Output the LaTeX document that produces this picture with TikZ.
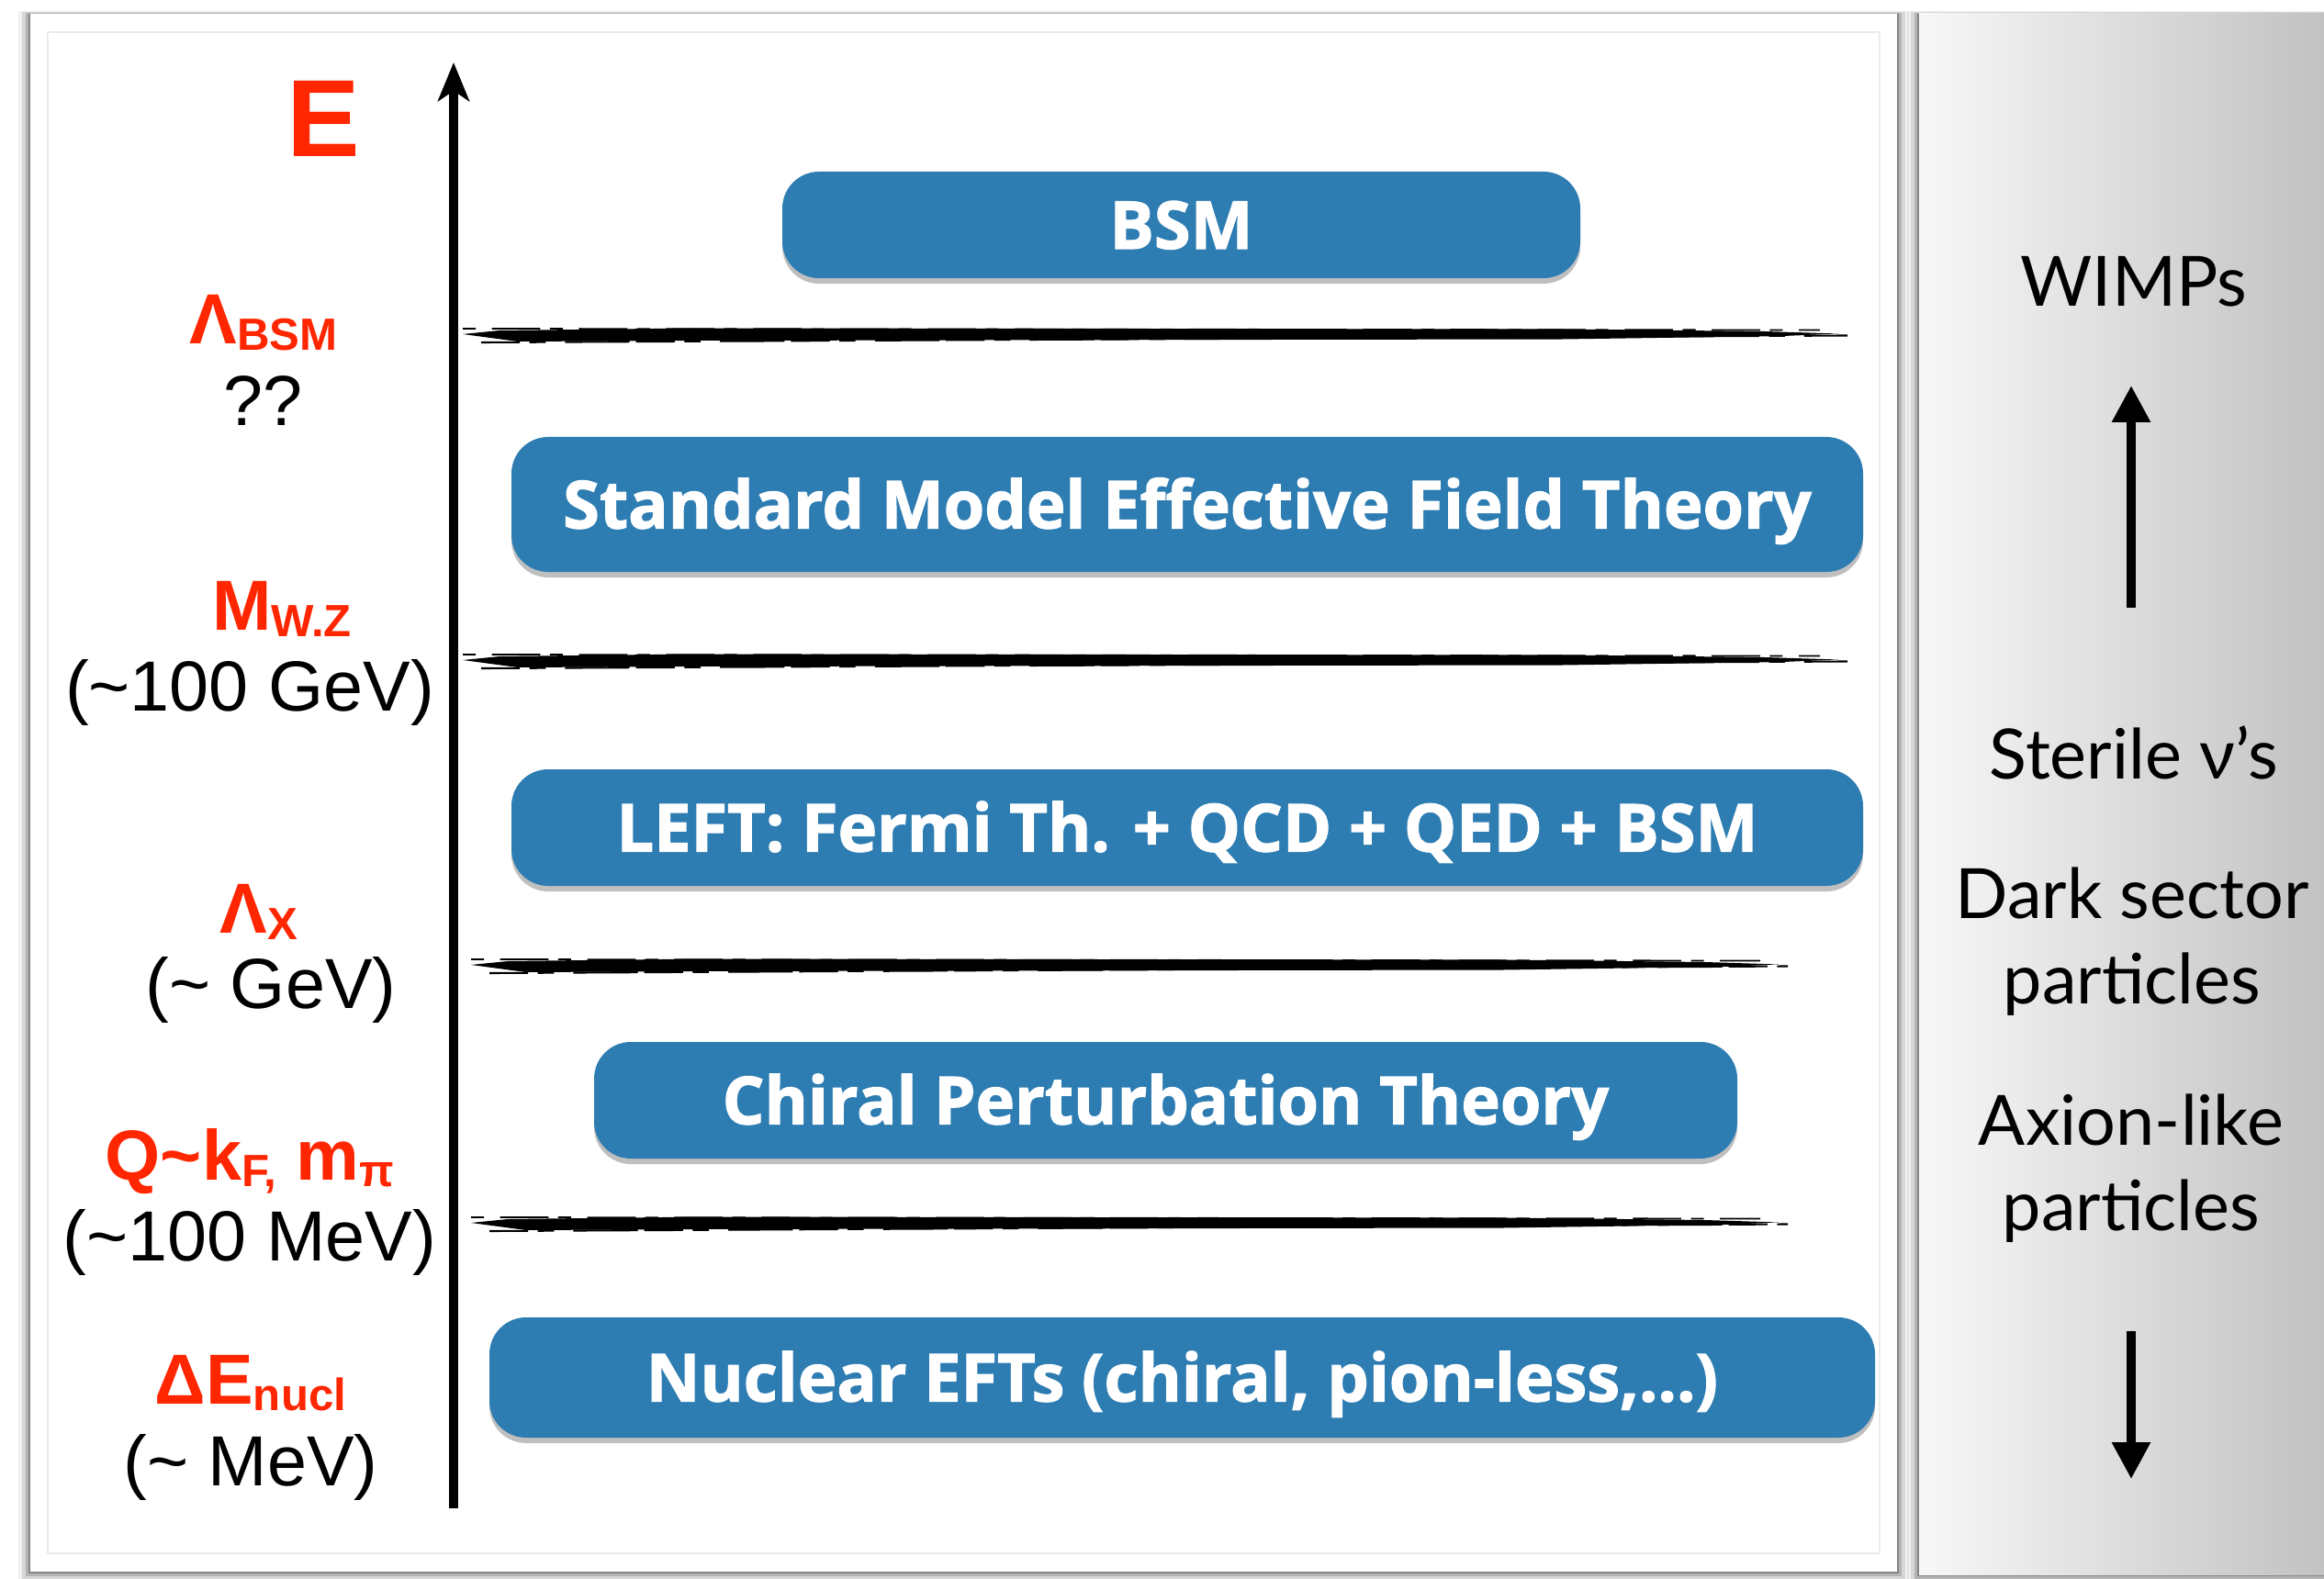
\documentclass[tikz,border=0pt]{standalone}
\usepackage{fontspec}
\usepackage{tikz}
\usetikzlibrary{arrows.meta,shadows}
\setmainfont{Liberation Sans}
\newfontfamily\boxfont[BoldFeatures={FakeBold=1.6}]{Open Sans}
\newfontfamily\sidefont{Lato}
\definecolor{scalered}{RGB}{255,38,0}
\definecolor{eftblue}{RGB}{46,125,178}
\def\lsub#1{\raisebox{-0.07cm}{\fontsize{14}{14}\selectfont #1}}
\def\brush(#1,#2,#3){%
\fill[black] (#1,{#3+0.01}) -- ({#1+0.4},{#3+0.05}) -- ({#1+2.5},{#3+0.075}) -- ({#2-3},{#3+0.065}) -- ({#2-0.8},{#3+0.04}) -- (#2,{#3+0.015}) -- ({#2-0.6},{#3-0.01}) -- ({#2-3},{#3-0.045}) -- ({#1+2.5},{#3-0.06}) -- ({#1+0.6},{#3-0.07}) -- ({#1+0.3},{#3-0.03}) -- cycle;
\draw[line width=0.6pt, dash pattern=on 12pt off 3pt on 5pt off 6pt on 20pt off 2pt] ({#1+0.2},{#3-0.08}) -- ({#2+0.1},{#3-0.005});
\draw[line width=0.5pt, dash pattern=on 4pt off 5pt on 15pt off 3pt] (#1,{#3+0.07}) -- ({#2-0.2},{#3+0.055});}

\begin{document}
\begin{tikzpicture}[
	eftbox/.style={fill=eftblue, rounded corners=0.4cm, text=white, inner sep=0pt,
		font=\boxfont\bfseries\fontsize{20.5}{24}\selectfont, text height=0.62cm, text depth=0.1cm,
		drop shadow={shadow xshift=0cm, shadow yshift=-0.06cm, opacity=0.25, fill=black}},
	scalelbl/.style={text=scalered, font=\bfseries\fontsize{22}{26}\selectfont},
	unitlbl/.style={font=\fontsize{22}{26}\selectfont},
	sidelbl/.style={font=\sidefont\fontsize{21.5}{26.5}\selectfont, align=center},
	]
			%%%%% START %%%%%
			
			\useasboundingbox (0, 0) rectangle (25.31, 17.19);
			\fill[white] (0, 0) rectangle (25.31, 17.19);
			
			% panel shadows
			\foreach \s/\o in {0.13/0.06, 0.09/0.1, 0.05/0.16, 0.02/0.25}{
				\fill[black, opacity=\o] ({0.33-\s}, {0.07-\s}) rectangle ({20.66+\s}, {17.04+0.2*\s});
				\fill[black, opacity=\o] ({20.90-\s}, {0.04-\s}) rectangle (25.31, {17.04+0.2*\s});
			}
			\fill[white] (0.33, 0.07) rectangle (20.66, 17.04);
			\draw[black!8, line width=0.6pt] (0.52, 0.27) rectangle (20.47, 16.84);
			\shade[left color=black!3, right color=black!24] (20.90, 0.04) rectangle (25.31, 17.04);
			
			% energy axis
			\coordinate (axisbot) at (4.94, 0.76);
			\coordinate (axistop) at (4.94, 16.51);
			\draw[line width=2.8pt, -{Stealth[length=0.42cm, width=0.34cm, inset=0.11cm]}] (axisbot) -- (axistop);
			\node[text=scalered, font=\bfseries\fontsize{34}{34}\selectfont] (elabel) at (3.52, 15.90) {E};
			
			% scales
			\node[scalelbl] (lbsm) at (2.87, 13.67) {Λ\lsub{BSM}};
			\node[unitlbl] (ubsm) at (2.87, 12.82) {??};
			\node[scalelbl] (lwz) at (3.07, 10.56) {M\lsub{W.Z}};
			\node[unitlbl] (uwz) at (2.72, 9.65) {(\textasciitilde100 GeV)};
			\node[scalelbl] (lchi) at (2.82, 7.26) {Λ\lsub{X}};
			\node[unitlbl] (uchi) at (2.95, 6.41) {(\textasciitilde{} GeV)};
			\node[scalelbl] (lkf) at (2.72, 4.54) {Q\textasciitilde k\lsub{F,} m\lsub{π}};
			\node[unitlbl] (ukf) at (2.72, 3.66) {(\textasciitilde100 MeV)};
			\node[scalelbl] (lnucl) at (2.73, 2.12) {ΔE\lsub{nucl}};
			\node[unitlbl] (unucl) at (2.73, 1.21) {(\textasciitilde{} MeV)};
			
			% thresholds
			\brush(5.04, 20.02, 13.54)
			\brush(5.04, 20.02, 9.99)
			\brush(5.13, 19.37, 6.67)
			\brush(5.13, 19.37, 3.86)
			
			% theories
			\node[eftbox, minimum width=8.69cm, minimum height=1.16cm] (bsm) at (12.865, 14.74) {BSM};
			\node[eftbox, minimum width=14.72cm, minimum height=1.47cm] (smeft) at (12.93, 11.695) {Standard Model Effective Field Theory};
			\node[eftbox, minimum width=14.72cm, minimum height=1.27cm] (left) at (12.93, 8.175) {LEFT: Fermi Th. + QCD + QED + BSM};
			\node[eftbox, minimum width=12.45cm, minimum height=1.27cm] (chpt) at (12.695, 5.205) {Chiral Perturbation Theory};
			\node[eftbox, minimum width=15.09cm, minimum height=1.31cm] (nucl) at (12.875, 2.185) {Nuclear EFTs (chiral, pion-less,...)};
			
			% candidates
			\node[sidelbl] (wimps) at (23.24, 14.12) {WIMPs};
			\node[sidelbl] (sterile) at (23.24, 8.99) {Sterile ν’s};
			\node[sidelbl] (dark) at (23.22, 6.93) {Dark sector\\particles};
			\node[sidelbl] (axion) at (23.21, 4.46) {Axion-like\\particles};
			\coordinate (upbot) at (23.21, 10.57);
			\coordinate (uptop) at (23.21, 12.99);
			\coordinate (downtop) at (23.21, 2.69);
			\coordinate (downbot) at (23.21, 1.08);
			\draw[line width=2.6pt, -{Triangle[length=0.4cm, width=0.4cm]}] (upbot) -- (uptop);
			\draw[line width=2.6pt, -{Triangle[length=0.4cm, width=0.4cm]}] (downtop) -- (downbot);
			
			%%%%% END %%%%%
\end{tikzpicture}
\end{document}
